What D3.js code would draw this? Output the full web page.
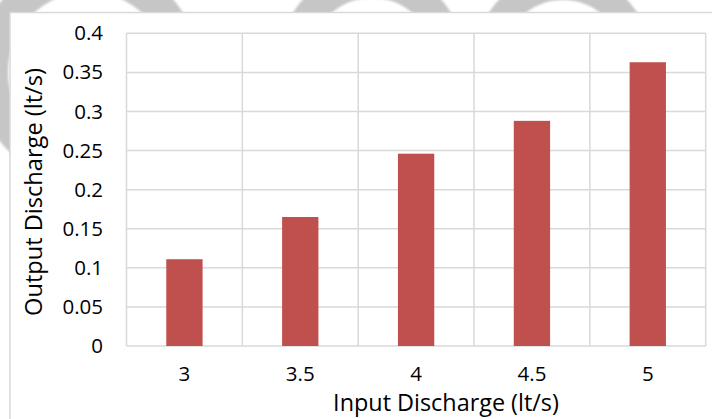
<!DOCTYPE html>
<html>
<head>
<meta charset="utf-8">
<script src="https://cdn.jsdelivr.net/npm/d3@7/dist/d3.min.js"></script>
<style>
  html, body { margin: 0; padding: 0; background: #fff; overflow: hidden; }
  svg { display: block; }
  text { font-family: "Open Sans", "Noto Sans", sans-serif; fill: #000; }
</style>
</head>
<body>
<svg id="chart" width="712" height="419"></svg>
<script>
// Input discharge categories (lt/s) and measured output discharge (lt/s)
const categories = ["3", "3.5", "4", "4.5", "5"];
const outputDischarge = [0.111, 0.165, 0.246, 0.288, 0.363];
const yTickValues = [0, 0.05, 0.1, 0.15, 0.2, 0.25, 0.3, 0.35, 0.4];
const yTickLabels = ["0", "0.05", "0.1", "0.15", "0.2", "0.25", "0.3", "0.35", "0.4"];
const xAxisTitle = "Input Discharge (lt/s)";
const yAxisTitle = "Output Discharge (lt/s)";

const W = 712, H = 419;
const plot = { left: 126.5, right: 705.7, top: 33.3, bottom: 346 };
const gridColor = "#d9d9d9";
const barColor = "#c0504d";
const gap = 0.6865; // Excel gap width ~219%

const svg = d3.select("#chart");

// Soft page watermark behind the chart frame
const defs = svg.append("defs");
defs.append("filter").attr("id", "soft")
  .append("feGaussianBlur").attr("stdDeviation", 1.2);

const rings = [
  { cx: 88, cy: 72, r: 96, w: 32 },
  { cx: 372, cy: 60, r: 77, w: 30 },
  { cx: 563, cy: 60, r: 74, w: 28 }
];
svg.append("g").attr("filter", "url(#soft)")
  .selectAll("circle").data(rings).join("circle")
  .attr("cx", d => d.cx).attr("cy", d => d.cy).attr("r", d => d.r)
  .attr("fill", "none").attr("stroke", "#c6c6c6").attr("stroke-width", d => d.w);

// Chart frame
svg.append("rect")
  .attr("x", 10).attr("y", 12.5).attr("width", W).attr("height", H)
  .attr("fill", "#fff").attr("stroke", gridColor).attr("stroke-width", 1.5);

// Scales
const x = d3.scaleBand()
  .domain(categories)
  .range([plot.left, plot.right])
  .paddingInner(gap)
  .paddingOuter(gap / 2);

const y = d3.scaleLinear().domain([0, 0.4]).range([plot.bottom, plot.top]);

const step = x.step();
const cellEdges = categories.map(c => x(c) - (step - x.bandwidth()) / 2);
cellEdges.push(cellEdges[cellEdges.length - 1] + step);

// Gridlines
const grid = svg.append("g").attr("stroke", gridColor).attr("stroke-width", 1.5);
grid.selectAll("line.h").data(yTickValues).join("line").attr("class", "h")
  .attr("x1", plot.left).attr("x2", plot.right)
  .attr("y1", d => y(d)).attr("y2", d => y(d));
grid.selectAll("line.v").data(cellEdges).join("line").attr("class", "v")
  .attr("x1", d => d).attr("x2", d => d)
  .attr("y1", plot.top).attr("y2", plot.bottom);

// Bars
svg.append("g").selectAll("rect").data(categories).join("rect")
  .attr("x", c => x(c))
  .attr("width", x.bandwidth())
  .attr("y", (c, i) => y(outputDischarge[i]))
  .attr("height", (c, i) => y(0) - y(outputDischarge[i]))
  .attr("fill", barColor);

// Y axis tick labels
const yAxis = d3.axisLeft(y).tickValues(yTickValues)
  .tickFormat((d, i) => yTickLabels[i]).tickSize(0).tickPadding(0);
const yg = svg.append("g").attr("transform", `translate(103,0)`).call(yAxis);
yg.select(".domain").remove();
yg.selectAll("text").attr("font-size", 20.5).attr("font-family", null).attr("fill", "#000");

// X axis tick labels
const xAxis = d3.axisBottom(x).tickSize(0).tickPadding(0);
const xg = svg.append("g").attr("transform", `translate(0,366)`).call(xAxis);
xg.select(".domain").remove();
xg.selectAll("text").attr("font-size", 20.5).attr("font-family", null).attr("fill", "#000");

// Axis titles
svg.append("text")
  .attr("x", 446).attr("y", 411)
  .attr("text-anchor", "middle").attr("font-size", 23.4)
  .text(xAxisTitle);

svg.append("text")
  .attr("transform", "translate(41.5,192) rotate(-90)")
  .attr("text-anchor", "middle").attr("font-size", 23.6)
  .text(yAxisTitle);
</script>
</body>
</html>
